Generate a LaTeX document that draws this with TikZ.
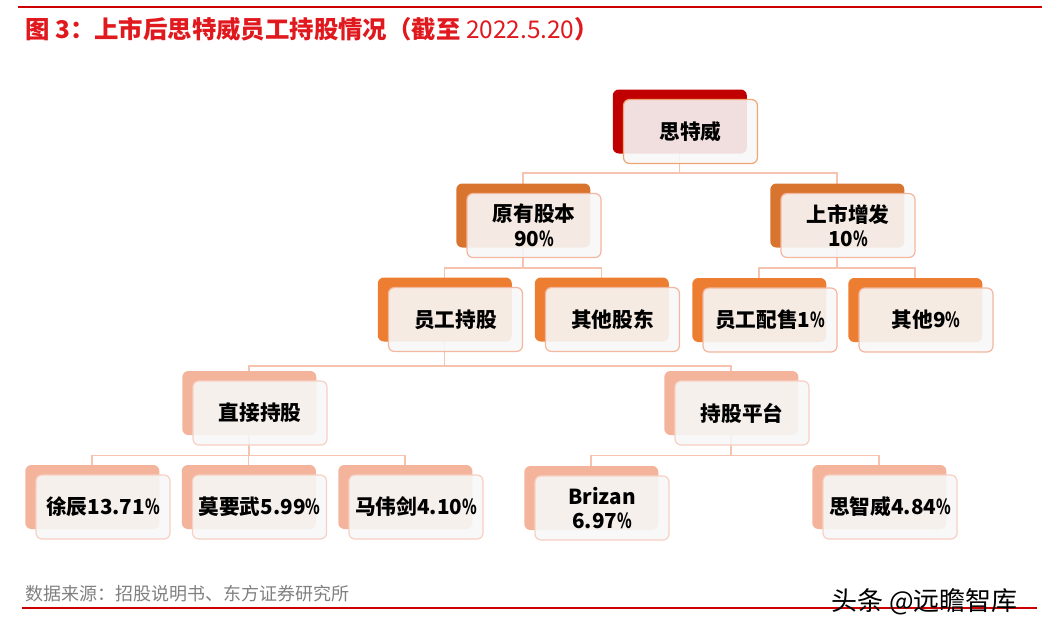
\documentclass[tikz,border=0pt]{standalone}
\usepackage{fontspec}
\newfontfamily\cjk{Noto Sans CJK SC}
\usetikzlibrary{shadows, backgrounds, calc, positioning}

\definecolor{titlered}{HTML}{E0191E}
\definecolor{rulered}{HTML}{CC0000}
\definecolor{backzero}{HTML}{C00000}
\definecolor{backone}{HTML}{D9742F}
\definecolor{backtwo}{HTML}{ED7D31}
\definecolor{backthree}{HTML}{F4B39B}
\definecolor{edgedark}{HTML}{F0A474}
\definecolor{edgemid}{HTML}{F3B69E}
\definecolor{edgelight}{HTML}{F7D0C3}
\definecolor{linkcol}{HTML}{F6C3AF}
\definecolor{srcgray}{HTML}{808080}

% narrow percent sign
\newcommand{\pct}{\scalebox{0.72}[1]{\%}}

\begin{document}
\begin{tikzpicture}[
    x=0.75pt, y=-0.75pt,
    box/.style={rectangle, draw=#1, line width=0.9pt, rounded corners=4.5pt,
        minimum height=48pt, minimum width=100.5pt, align=center,
        fill=white!97!black, fill opacity=0.9, text opacity=1,
        font=\cjk\bfseries\fontsize{15.5pt}{18.5pt}\selectfont},
    back/.style={general shadow={fill=#1, fill opacity=1, draw=none,
        shadow xshift=-8pt, shadow yshift=7.5pt}},
    link/.style={draw=linkcol, line width=1.1pt},
    rule/.style={draw=rulered, line width=1.6pt}
]
\useasboundingbox (0,0) rectangle (1042,633);

% Title and rules
\draw[rule] (18,7) -- (1042,7);
\node[anchor=west, inner sep=0, text=titlered, font=\cjk\fontsize{18.3pt}{20pt}\selectfont] (title) at (25,29)
    {\bfseries 图 3：上市后思特威员工持股情况（截至 \mdseries 2022.5.20\bfseries ）};

% Nodes
\node[box=edgedark, back=backzero] (stw) at (690.5,131.5) {思特威};
\node[box=edgemid, back=backone] (yygb) at (534,225.5) {原有股本\\90\pct};
\node[box=edgemid, back=backone] (sszf) at (848,225.5) {上市增发\\10\pct};
\node[box=edgemid, back=backtwo] (ygcg) at (455.5,319.5) {员工持股};
\node[box=edgemid, back=backtwo] (qtgd) at (612.5,319.5) {其他股东};
\node[box=edgemid, back=backtwo] (ygps) at (770,320) {员工配售1\pct};
\node[box=edgemid, back=backtwo] (qita) at (926,320) {其他9\pct};
\node[box=edgelight, back=backthree] (zjcg) at (260,413) {直接持股};
\node[box=edgelight, back=backthree] (cgpt) at (742,413) {持股平台};
\node[box=edgelight, back=backthree] (xuc) at (103,507) {徐辰13.71\pct};
\node[box=edgelight, back=backthree] (myw) at (259.5,507) {莫要武5.99\pct};
\node[box=edgelight, back=backthree] (mwj) at (416,507) {马伟剑4.10\pct};
\node[box=edgelight, back=backthree] (brz) at (602,508) {Brizan\\6.97\pct};
\node[box=edgelight, back=backthree] (szw) at (890,507) {思智威4.84\pct};

% Links (behind the boxes)
\begin{pgfonlayer}{background}
\foreach \parent/\child/\drop in {stw/yygb/9, stw/sszf/9, yygb/ygcg/10, yygb/qtgd/10,
    sszf/ygps/10, sszf/qita/10, ygcg/zjcg/14, ygcg/cgpt/14,
    zjcg/xuc/10, zjcg/myw/10, zjcg/mwj/10, cgpt/brz/10, cgpt/szw/10}
    \draw[link] ($(\parent.center)+(-11,0)$) -- ($(\parent.south)+(-11,\drop)$)
        -| ($(\child.center)+(-11,0)$);
\end{pgfonlayer}

% Source and mark
\draw[rule] (22,608) -- (1037,608);
\node[anchor=west, inner sep=0, text=srcgray, font=\cjk\fontsize{13.5pt}{16pt}\selectfont] (source) at (25,594)
    {数据来源：招股说明书、东方证券研究所};
\node[anchor=west, inner sep=0, font=\cjk\fontsize{19.5pt}{21pt}\selectfont] (mark) at (831,602)
    {头条 @远瞻智库};

\end{tikzpicture}
\end{document}
